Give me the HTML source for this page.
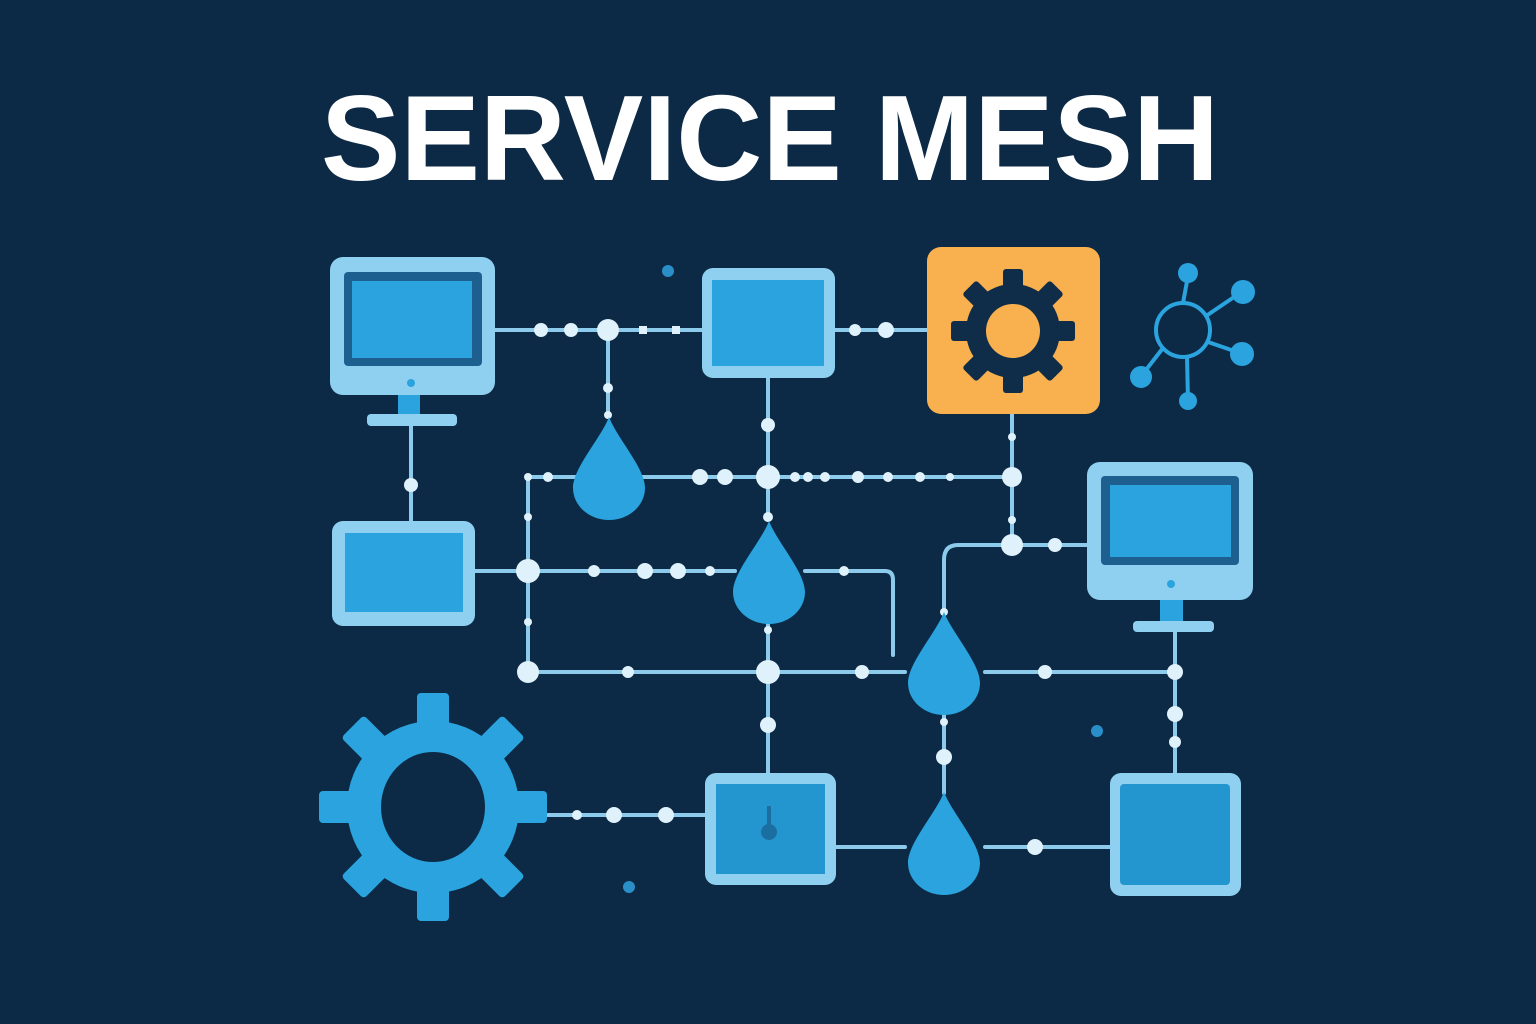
<!DOCTYPE html>
<html><head><meta charset="utf-8"><style>
html,body{margin:0;padding:0;background:#0c2a45;}
svg{display:block}
</style></head><body>
<svg width="1536" height="1024" viewBox="0 0 1536 1024" xmlns="http://www.w3.org/2000/svg">
<rect width="1536" height="1024" fill="#0c2a45"/>
<text x="770" y="180" text-anchor="middle" font-family="Liberation Sans, sans-serif" font-weight="bold" font-size="122" fill="#ffffff" textLength="898" lengthAdjust="spacingAndGlyphs">SERVICE MESH</text>

<defs>
<path id="drop" d="M0,-51 C-8,-30 -36,0 -36,20 A36,32 0 0 0 36,20 C36,0 8,-30 0,-51Z"/>
</defs>

<g stroke="#8ccbeb" stroke-width="4" fill="none" stroke-linecap="round">
<line x1="495" y1="330" x2="702" y2="330"/>
<line x1="835" y1="330" x2="927" y2="330"/>
<line x1="608" y1="330" x2="608" y2="415"/>
<line x1="768" y1="378" x2="768" y2="520"/>
<line x1="411" y1="425" x2="411" y2="521"/>
<line x1="528" y1="477" x2="1012" y2="477"/>
<line x1="528" y1="477" x2="528" y2="672"/>
<line x1="475" y1="571" x2="735" y2="571"/>
<path d="M805,571 H885 Q893,571 893,580 V655"/>
<line x1="1012" y1="414" x2="1012" y2="545"/>
<line x1="1012" y1="545" x2="1087" y2="545"/>
<path d="M1012,545 H958 Q944,545 944,560 V612"/>
<line x1="528" y1="672" x2="905" y2="672"/>
<line x1="985" y1="672" x2="1175" y2="672"/>
<line x1="768" y1="622" x2="768" y2="773"/>
<line x1="1175" y1="632" x2="1175" y2="773"/>
<line x1="944" y1="713" x2="944" y2="793"/>
<line x1="548" y1="815" x2="705" y2="815"/>
<line x1="836" y1="847" x2="905" y2="847"/>
<line x1="985" y1="847" x2="1110" y2="847"/>
</g>

<g fill="#dff2fb">
<circle cx="541" cy="330" r="7"/><circle cx="571" cy="330" r="7"/><circle cx="608" cy="330" r="11"/>
<rect x="639" y="326" width="8" height="8"/><rect x="672" y="326" width="8" height="8"/>
<circle cx="855" cy="330" r="6"/><circle cx="886" cy="330" r="8"/>
<circle cx="608" cy="388" r="5"/><circle cx="608" cy="415" r="4"/>
<circle cx="768" cy="425" r="7"/><circle cx="768" cy="477" r="12"/><circle cx="768" cy="517" r="5"/>
<circle cx="411" cy="485" r="7"/>
<circle cx="528" cy="477" r="4"/><circle cx="548" cy="477" r="5"/><circle cx="700" cy="477" r="8"/><circle cx="725" cy="477" r="8"/>
<circle cx="795" cy="477" r="5"/><circle cx="808" cy="477" r="5"/><circle cx="825" cy="477" r="5"/><circle cx="858" cy="477" r="6"/><circle cx="888" cy="477" r="5"/><circle cx="920" cy="477" r="5"/><circle cx="950" cy="477" r="4"/><circle cx="1012" cy="477" r="10"/>
<circle cx="528" cy="517" r="4"/><circle cx="528" cy="571" r="12"/><circle cx="528" cy="622" r="4"/><circle cx="528" cy="672" r="11"/>
<circle cx="594" cy="571" r="6"/><circle cx="645" cy="571" r="8"/><circle cx="678" cy="571" r="8"/><circle cx="710" cy="571" r="5"/>
<circle cx="844" cy="571" r="5"/>
<circle cx="1012" cy="437" r="4"/><circle cx="1012" cy="520" r="4"/><circle cx="1012" cy="545" r="11"/><circle cx="1055" cy="545" r="7"/>
<circle cx="944" cy="612" r="4"/>
<circle cx="628" cy="672" r="6"/><circle cx="768" cy="672" r="12"/><circle cx="862" cy="672" r="7"/>
<circle cx="1045" cy="672" r="7"/><circle cx="1175" cy="672" r="8"/>
<circle cx="768" cy="630" r="4"/><circle cx="768" cy="725" r="8"/>
<circle cx="1175" cy="714" r="8"/><circle cx="1175" cy="742" r="6"/>
<circle cx="944" cy="722" r="4"/><circle cx="944" cy="757" r="8"/>
<circle cx="577" cy="815" r="5"/><circle cx="614" cy="815" r="8"/><circle cx="666" cy="815" r="8"/>
<circle cx="1035" cy="847" r="8"/>
</g>

<g fill="#2a8fc8"><circle cx="668" cy="271" r="6"/><circle cx="1097" cy="731" r="6"/><circle cx="629" cy="887" r="6"/></g>

<!-- monitor 1 -->
<rect x="398" y="390" width="22" height="24" fill="#2aa3de"/>
<rect x="367" y="414" width="90" height="12" rx="4" fill="#8fd0f0"/>
<rect x="330" y="257" width="165" height="138" rx="13" fill="#8fd0f0"/>
<rect x="344" y="272" width="138" height="94" rx="4" fill="#1d5f8f"/>
<rect x="352" y="281" width="120" height="77" fill="#2aa3de"/>
<circle cx="411" cy="383" r="4" fill="#2aa3de"/>

<!-- box left -->
<rect x="332" y="521" width="143" height="105" rx="11" fill="#8fd0f0"/>
<rect x="345" y="533" width="118" height="79" fill="#2aa3de"/>

<!-- top box -->
<rect x="702" y="268" width="133" height="110" rx="11" fill="#8fd0f0"/>
<rect x="712" y="280" width="112" height="86" fill="#2aa3de"/>

<!-- orange gear box -->
<rect x="927" y="247" width="173" height="167" rx="14" fill="#f9b04f"/>
<g transform="translate(1013,331)" fill="#0f2c48">
<circle r="47"/>
<g id="t8">
<rect x="-10" y="-62" width="20" height="24" rx="3"/>
<rect x="-10" y="-62" width="20" height="24" rx="3" transform="rotate(45)"/>
<rect x="-10" y="-62" width="20" height="24" rx="3" transform="rotate(90)"/>
<rect x="-10" y="-62" width="20" height="24" rx="3" transform="rotate(135)"/>
<rect x="-10" y="-62" width="20" height="24" rx="3" transform="rotate(180)"/>
<rect x="-10" y="-62" width="20" height="24" rx="3" transform="rotate(225)"/>
<rect x="-10" y="-62" width="20" height="24" rx="3" transform="rotate(270)"/>
<rect x="-10" y="-62" width="20" height="24" rx="3" transform="rotate(315)"/>
</g>
<circle r="27" fill="#f9b04f"/>
</g>

<!-- hub icon -->
<g stroke="#2aa3de" stroke-width="4" fill="none">
<circle cx="1183" cy="330" r="27"/>
<line x1="1183" y1="303" x2="1188" y2="276"/>
<line x1="1206" y1="316" x2="1240" y2="293"/>
<line x1="1208" y1="342" x2="1240" y2="353"/>
<line x1="1187" y1="357" x2="1188" y2="400"/>
<line x1="1163" y1="348" x2="1142" y2="375"/>
</g>
<g fill="#2aa3de">
<circle cx="1188" cy="273" r="10"/><circle cx="1243" cy="292" r="12"/><circle cx="1242" cy="354" r="12"/><circle cx="1188" cy="401" r="9"/><circle cx="1141" cy="377" r="11"/>
</g>

<!-- monitor right -->
<rect x="1160" y="595" width="23" height="26" fill="#2aa3de"/>
<rect x="1133" y="621" width="81" height="11" rx="4" fill="#8fd0f0"/>
<rect x="1087" y="462" width="166" height="138" rx="13" fill="#8fd0f0"/>
<rect x="1101" y="476" width="138" height="89" rx="4" fill="#1d5f8f"/>
<rect x="1110" y="485" width="121" height="72" fill="#2aa3de"/>
<circle cx="1171" cy="584" r="4" fill="#2aa3de"/>

<!-- bottom box -->
<rect x="705" y="773" width="131" height="112" rx="11" fill="#8fd0f0"/>
<rect x="716" y="784" width="109" height="90" fill="#2396d0"/>
<rect x="767" y="806" width="4" height="20" fill="#1a6fa0"/><circle cx="769" cy="832" r="8" fill="#1a6fa0"/>

<!-- bottom right box -->
<rect x="1110" y="773" width="131" height="123" rx="11" fill="#8fd0f0"/>
<rect x="1120" y="784" width="110" height="101" rx="4" fill="#2396d0"/>

<!-- drops -->
<g fill="#2aa3de">
<use href="#drop" transform="translate(609,468)"/>
<use href="#drop" transform="translate(769,572)"/>
<use href="#drop" transform="translate(944,663)"/>
<use href="#drop" transform="translate(944,843)"/>
</g>

<!-- big gear -->
<g transform="translate(433,807)" fill="#2aa3de">
<circle r="86"/>
<rect x="-16" y="-114" width="32" height="40" rx="4"/>
<rect x="-16" y="-114" width="32" height="40" rx="4" transform="rotate(45)"/>
<rect x="-16" y="-114" width="32" height="40" rx="4" transform="rotate(90)"/>
<rect x="-16" y="-114" width="32" height="40" rx="4" transform="rotate(135)"/>
<rect x="-16" y="-114" width="32" height="40" rx="4" transform="rotate(180)"/>
<rect x="-16" y="-114" width="32" height="40" rx="4" transform="rotate(225)"/>
<rect x="-16" y="-114" width="32" height="40" rx="4" transform="rotate(270)"/>
<rect x="-16" y="-114" width="32" height="40" rx="4" transform="rotate(315)"/>
<ellipse rx="52" ry="55" fill="#0c2a45"/>
</g>
</svg>
</body></html>
